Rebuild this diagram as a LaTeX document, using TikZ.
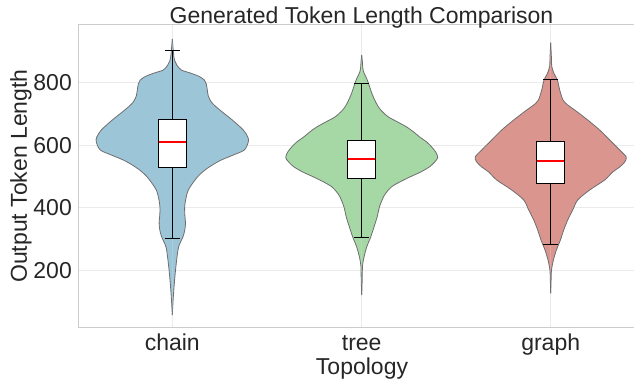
\documentclass[tikz,border=0pt]{standalone}
\usepackage{fontspec}
\setmainfont{Liberation Sans}
\definecolor{chainc}{HTML}{9DC5D8}
\definecolor{treec}{HTML}{A5D8A5}
\definecolor{graphc}{HTML}{DA958F}
\definecolor{txt}{HTML}{262626}
\definecolor{gridc}{HTML}{EBEBEB}
\definecolor{spinec}{HTML}{CCCCCC}
\definecolor{edgec}{HTML}{6E6E6E}
\tikzset{
  violinedge/.style={draw=edgec, line width=0.8pt},
  gridline/.style={draw=gridc, line width=0.8pt},
  spine/.style={draw=spinec, line width=1pt},
  whisk/.style={draw=black, line width=1pt},
  boxst/.style={draw=black, fill=white, line width=1pt},
  med/.style={draw=red, line width=1.5pt},
  lbl/.style={text=txt, font=\fontsize{23}{27}\selectfont, inner sep=0pt},
}
\newcommand{\halfviolin}[2]{%
  \fill[#1] plot[smooth] coordinates {#2} -- cycle;
  \draw[violinedge] plot[smooth] coordinates {#2};
}
\newcommand{\violinpic}[3]{%
  \begin{scope}[xshift=#1pt]\halfviolin{#2}{#3}\end{scope}
  \begin{scope}[xshift=#1pt, xscale=-1]\halfviolin{#2}{#3}\end{scope}
}
\newcommand{\boxpic}[7]{% x, capTop, capBot, boxTop, boxBot, median, halfwidth
  \draw[whisk] (#1,#2) -- (#1,#3);
  \draw[whisk] ({#1-7.5},#2) -- ({#1+7.5},#2);
  \draw[whisk] ({#1-7.5},#3) -- ({#1+7.5},#3);
  \draw[boxst] ({#1-#7},#4) rectangle ({#1+#7},#5);
  \draw[med] ({#1-#7+0.6},#6) -- ({#1+#7-0.6},#6);
}
\begin{document}
\begin{tikzpicture}[x=1pt, y=-1pt]
\useasboundingbox (0,0) rectangle (634,379);
% grid
\foreach \gy in {82.3,145.3,207.3,270.3} \draw[gridline] (78,\gy) -- (634,\gy);
\foreach \gx in {172.3,361.7,550.7} \draw[gridline] (\gx,25) -- (\gx,327);
% violins
\violinpic{172.3}{chainc}{(0,39) (1,51) (1.5,56) (2.5,61) (4.5,65) (9,70) (18,73) (27,76.5) (32,80) (34,84) (35,90) (36,96) (39,102) (44,107) (50,112) (60,120) (71,130) (75.5,137) (76,142) (72,150) (61,155) (49,160) (40,165) (32.7,170) (27,175) (22.7,180) (16,190) (13.3,200) (12.3,208) (12.6,216) (13.2,223) (12.5,230) (10.6,237) (6.3,247) (4,263) (2.3,280) (1,297) (0,315)}
\violinpic{361.7}{treec}{(0,55) (0.7,62) (1,67) (1.6,71) (3,74.5) (4.5,77.5) (6.7,83) (10,93) (13,100) (16.7,107) (21,112) (26.7,117) (36,122) (45,127) (52,132) (58,137) (65,142) (70,147) (74,152) (76,157.5) (73,162) (68,166.7) (59,172) (48.7,176.7) (38,182) (30,186.7) (25,192) (21.7,197) (17.7,207) (15.7,216) (12.3,227) (9,237) (5,247) (2.3,257) (0.8,266) (0.5,280) (0,295)}
\violinpic{550.7}{graphc}{(0,42.7) (0.6,55) (1,66) (2,70) (3.5,74) (6.7,80) (9,90) (12.3,100) (17,105) (24,110) (37,120) (49,130) (59,140) (69,150) (75.5,157) (74,162) (69,167) (62,172) (54,180) (39,190) (27,200) (22,210) (17,220) (13,230) (9.7,240) (5.7,250) (2.7,260) (0.8,270) (0.4,280) (0,293.3)}
% boxes
\boxpic{172.3}{51}{238.3}{119.3}{167.3}{142}{14.2}
\boxpic{361.7}{83.3}{237.3}{141}{179}{159}{14.2}
\boxpic{550.7}{80}{245}{141.7}{183.3}{161}{14.2}
% spines
\draw[spine] (634,25) -- (78,25) -- (78,327) -- (634,327);
% labels
\node[lbl, anchor=base] (title) at (361.5,24) {Generated Token Length Comparison};
\node[lbl, anchor=base east] (t800) at (72,90.7) {800};
\node[lbl, anchor=base east] (t600) at (72,153.7) {600};
\node[lbl, anchor=base east] (t400) at (72,215.7) {400};
\node[lbl, anchor=base east] (t200) at (72,278.7) {200};
\node[lbl, anchor=base] (xchain) at (172.3,350) {chain};
\node[lbl, anchor=base] (xtree) at (361.7,350) {tree};
\node[lbl, anchor=base] (xgraph) at (550.7,350) {graph};
\node[lbl, anchor=base] (xlab) at (362,374.5) {Topology};
\node[lbl, anchor=base, rotate=90] (ylab) at (27,176) {Output Token Length};
\end{tikzpicture}
\end{document}
